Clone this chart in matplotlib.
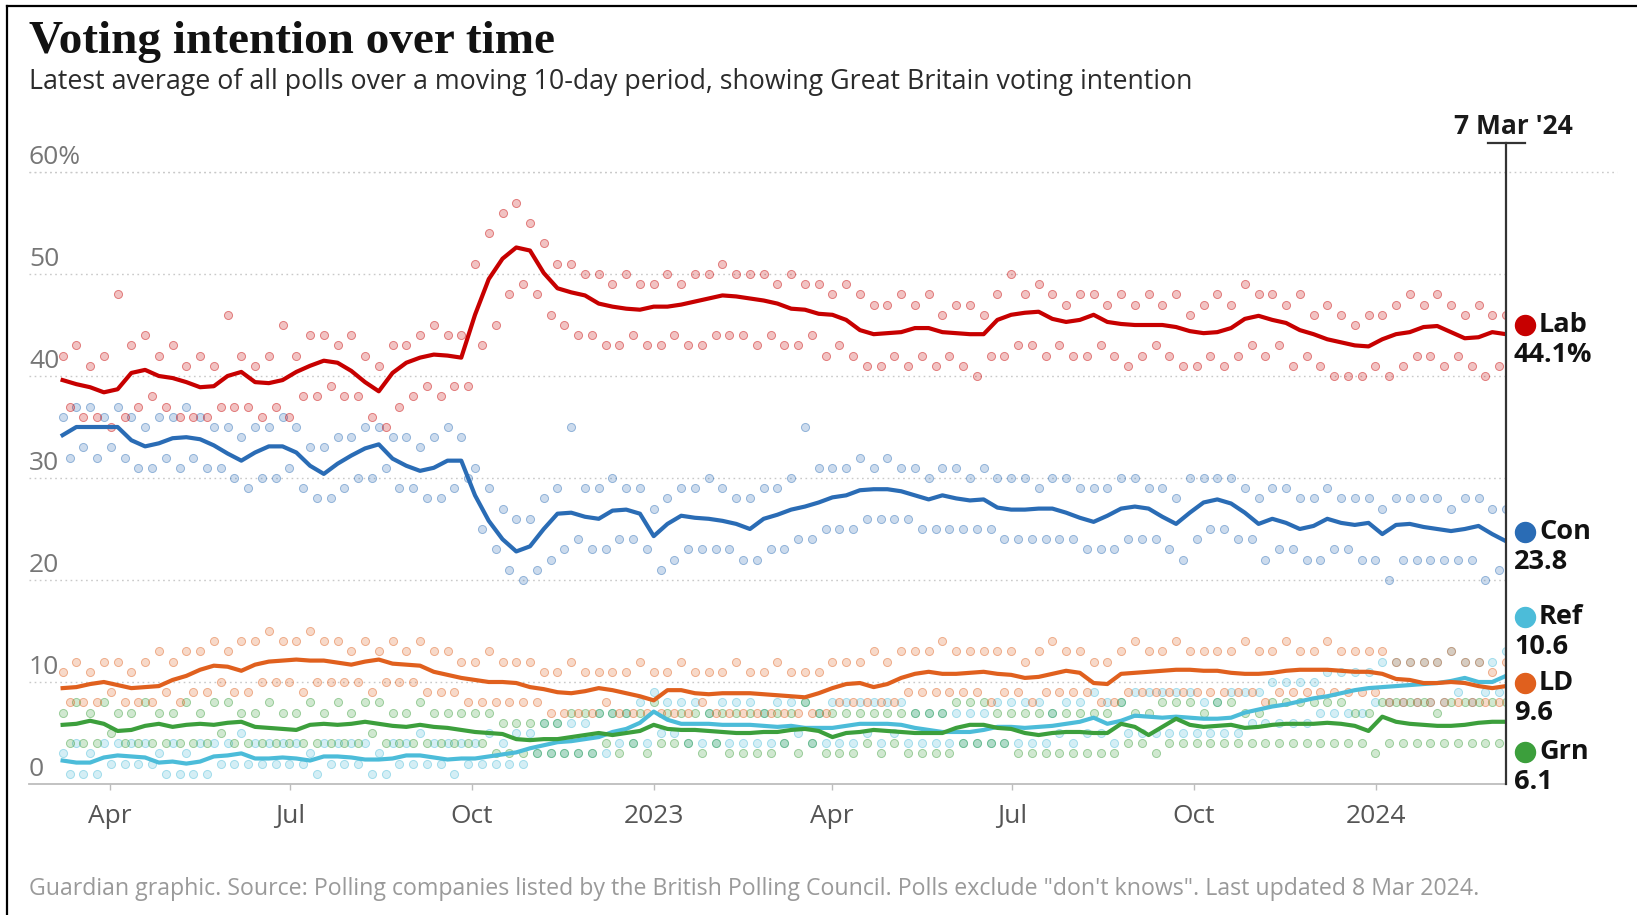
"""
Voting intention over time: poll dots and 10-day rolling averages
for the five main GB parties, March 2022 to March 2024.
"""

import matplotlib
matplotlib.use('Agg')
import matplotlib.pyplot as plt
import matplotlib.colors as mcolors
import matplotlib.transforms as mtransforms
import pandas as pd

# ---------------------------------------------------------------- data
# rolling average, sampled about once a week
DATES = pd.date_range('2022-03-08', '2024-03-07', periods=106)

LAB = [39.6, 39.2, 38.9, 38.4, 38.7, 40.3, 40.6, 40.0, 39.8, 39.4,
       38.9, 39.0, 40.0, 40.4, 39.4, 39.3, 39.6, 40.4, 41.0, 41.5,
       41.3, 40.5, 39.4, 38.5, 40.3, 41.3, 41.8, 42.1, 42.0, 41.8,
       46.0, 49.5, 51.5, 52.6, 52.3, 50.1, 48.6, 48.2, 47.9, 47.1,
       46.8, 46.6, 46.5, 46.8, 46.8, 47.0, 47.3, 47.6, 47.9, 47.8,
       47.6, 47.4, 47.1, 46.6, 46.5, 46.1, 46.0, 45.5, 44.5, 44.1,
       44.2, 44.3, 44.7, 44.7, 44.3, 44.2, 44.1, 44.1, 45.5, 46.0,
       46.2, 46.3, 45.6, 45.3, 45.5, 46.0, 45.3, 45.1, 45.0, 45.0,
       45.0, 44.8, 44.4, 44.2, 44.3, 44.7, 45.6, 45.9, 45.5, 45.2,
       44.5, 44.1, 43.6, 43.3, 43.0, 42.9, 43.6, 44.1, 44.3, 44.8,
       44.9, 44.3, 43.7, 43.8, 44.3, 44.1]
CON = [34.2, 35.0, 35.0, 35.0, 35.0, 33.7, 33.1, 33.4, 33.9, 34.0,
       33.8, 33.2, 32.4, 31.7, 32.5, 33.1, 33.1, 32.5, 31.2, 30.4,
       31.4, 32.2, 32.9, 33.3, 31.9, 31.2, 30.7, 31.0, 31.7, 31.7,
       28.3, 25.8, 24.0, 22.8, 23.3, 25.0, 26.5, 26.6, 26.2, 26.0,
       26.8, 26.9, 26.5, 24.3, 25.5, 26.3, 26.1, 26.0, 25.8, 25.5,
       25.0, 26.0, 26.4, 26.9, 27.2, 27.6, 28.1, 28.3, 28.8, 28.9,
       28.9, 28.7, 28.3, 27.9, 28.3, 28.0, 27.8, 27.9, 27.1, 26.9,
       26.9, 27.0, 27.0, 26.6, 26.1, 25.7, 26.3, 27.0, 27.2, 27.0,
       26.2, 25.5, 26.6, 27.6, 27.9, 27.5, 26.6, 25.5, 26.0, 25.6,
       25.0, 25.3, 26.0, 25.6, 25.4, 25.6, 24.5, 25.4, 25.5, 25.2,
       25.0, 24.8, 25.0, 25.3, 24.5, 23.8]
REF = [2.3, 2.1, 2.1, 2.6, 2.8, 2.7, 2.6, 2.1, 2.2, 2.0,
       2.2, 2.7, 2.8, 3.0, 2.5, 2.5, 2.6, 2.5, 2.3, 2.7,
       2.7, 2.6, 2.4, 2.4, 2.5, 2.8, 2.8, 2.6, 2.4, 2.5,
       2.5, 2.7, 2.9, 3.1, 3.5, 3.8, 4.1, 4.2, 4.4, 4.6,
       5.1, 5.4, 6.0, 7.1, 6.3, 5.9, 5.9, 5.9, 5.8, 5.8,
       5.8, 5.7, 5.6, 5.7, 5.5, 5.5, 5.5, 5.7, 5.9, 5.9,
       5.9, 5.8, 5.5, 5.3, 5.1, 5.1, 5.1, 5.3, 5.6, 5.6,
       5.5, 5.6, 5.7, 5.9, 6.1, 6.5, 5.9, 6.2, 6.7, 6.6,
       6.5, 6.6, 6.5, 6.4, 6.4, 6.5, 7.0, 7.3, 7.6, 7.8,
       8.1, 8.4, 8.6, 8.9, 9.2, 9.4, 9.5, 9.6, 9.7, 9.8,
       9.9, 10.1, 10.4, 10.0, 10.0, 10.6]
LD = [9.4, 9.5, 9.8, 10.0, 9.7, 9.4, 9.5, 9.6, 10.2, 10.6,
      11.2, 11.6, 11.5, 11.1, 11.7, 12.0, 12.1, 12.2, 12.1, 12.1,
      11.9, 11.7, 12.0, 12.2, 11.8, 11.7, 11.6, 11.0, 10.7, 10.4,
      10.2, 10.0, 10.0, 9.9, 9.5, 9.3, 9.0, 8.9, 9.1, 9.4,
      9.2, 8.9, 8.6, 8.2, 9.2, 9.2, 8.9, 8.8, 8.9, 8.9,
      8.9, 8.8, 8.7, 8.6, 8.5, 8.9, 9.4, 9.8, 9.9, 9.5,
      9.8, 10.4, 10.8, 11.0, 10.8, 10.8, 10.9, 11.0, 10.8, 10.7,
      10.4, 10.5, 10.8, 11.1, 10.9, 9.9, 9.8, 10.8, 10.9, 11.0,
      11.1, 11.2, 11.2, 11.1, 11.1, 10.9, 10.8, 10.8, 10.9, 11.1,
      11.2, 11.2, 11.2, 11.1, 11.0, 11.0, 10.8, 10.3, 10.2, 9.9,
      9.9, 10.0, 9.9, 9.6, 9.4, 9.6]
GRN = [5.8, 5.9, 6.2, 5.9, 5.2, 5.3, 5.7, 5.9, 5.6, 5.8,
       5.9, 5.8, 6.0, 6.1, 5.6, 5.5, 5.4, 5.3, 5.8, 5.9,
       5.8, 5.9, 6.1, 5.9, 5.7, 5.6, 5.8, 5.6, 5.5, 5.3,
       5.1, 5.0, 4.9, 4.4, 4.3, 4.4, 4.4, 4.6, 4.8, 5.0,
       4.8, 5.0, 5.2, 5.8, 5.4, 5.3, 5.3, 5.2, 5.1, 5.0,
       5.0, 5.1, 5.1, 5.3, 5.4, 5.2, 4.6, 5.0, 5.1, 5.3,
       5.2, 5.1, 5.0, 5.0, 5.0, 5.5, 5.8, 5.8, 5.5, 5.4,
       5.0, 4.8, 5.0, 5.1, 5.1, 5.0, 5.0, 5.9, 5.6, 4.8,
       5.6, 6.4, 5.8, 5.6, 5.7, 5.8, 5.5, 5.6, 5.8, 5.9,
       5.9, 5.9, 6.0, 5.9, 5.7, 5.2, 6.6, 6.1, 5.9, 5.8,
       5.7, 5.7, 5.8, 6.0, 6.1, 6.1]

# individual polls each week: the higher and the lower reading
LAB_HI = [42, 43, 41, 42, 48, 43, 44, 42, 43, 41, 42, 41, 46, 42, 41, 42, 45, 42, 44, 44,
          43, 44, 42, 41, 43, 43, 44, 45, 44, 44, 51, 54, 56, 57, 55, 53, 51, 51, 50, 50,
          49, 50, 49, 49, 50, 49, 50, 50, 51, 50, 50, 50, 49, 50, 49, 49, 48, 49, 48, 47,
          47, 48, 47, 48, 46, 47, 47, 46, 48, 50, 48, 49, 48, 47, 48, 48, 47, 48, 47, 48,
          47, 48, 46, 47, 48, 47, 49, 48, 48, 47, 48, 46, 47, 46, 45, 46, 46, 47, 48, 47,
          48, 47, 46, 47, 46, 46]
LAB_LO = [37, 36, 36, 35, 36, 37, 38, 37, 36, 36, 36, 37, 37, 37, 36, 37, 36, 38, 38, 39,
          38, 38, 36, 35, 37, 38, 39, 38, 39, 39, 43, 45, 48, 49, 48, 46, 45, 44, 44, 43,
          43, 44, 43, 43, 44, 43, 43, 44, 44, 44, 43, 44, 43, 43, 44, 42, 43, 42, 41, 41,
          42, 41, 42, 41, 42, 41, 40, 42, 42, 43, 43, 42, 43, 42, 42, 43, 42, 41, 42, 43,
          42, 41, 41, 42, 41, 42, 43, 42, 43, 41, 42, 41, 40, 40, 40, 41, 40, 41, 42, 42,
          41, 42, 41, 40, 41, 41]
CON_HI = [36, 37, 37, 36, 37, 36, 35, 36, 36, 37, 36, 35, 35, 34, 35, 35, 36, 35, 33, 33,
          34, 34, 35, 35, 34, 34, 33, 34, 35, 34, 31, 29, 27, 26, 26, 28, 29, 35, 29, 29,
          30, 29, 29, 27, 28, 29, 29, 30, 29, 28, 28, 29, 29, 30, 35, 31, 31, 31, 32, 31,
          32, 31, 31, 30, 31, 31, 30, 31, 30, 30, 30, 29, 30, 30, 29, 29, 29, 30, 30, 29,
          29, 28, 30, 30, 30, 30, 29, 28, 29, 29, 28, 28, 29, 28, 28, 28, 27, 28, 28, 28,
          28, 27, 28, 28, 27, 27]
CON_LO = [32, 33, 32, 33, 32, 31, 31, 32, 31, 32, 31, 31, 30, 29, 30, 30, 31, 29, 28, 28,
          29, 30, 30, 31, 29, 29, 28, 28, 29, 30, 25, 23, 21, 20, 21, 22, 23, 24, 23, 23,
          24, 24, 23, 21, 22, 23, 23, 23, 23, 22, 22, 23, 23, 24, 24, 25, 25, 25, 26, 26,
          26, 26, 25, 25, 25, 25, 25, 25, 24, 24, 24, 24, 24, 24, 23, 23, 23, 24, 24, 24,
          23, 22, 24, 25, 25, 24, 24, 22, 23, 23, 22, 22, 23, 23, 22, 22, 20, 22, 22, 22,
          22, 22, 22, 20, 21, 21]
REF_HI = [3, 4, 3, 4, 4, 4, 4, 3, 4, 3, 4, 4, 4, 5, 4, 4, 4, 4, 3, 4,
          4, 4, 4, 3, 4, 4, 5, 4, 4, 4, 4, 5, 4, 5, 5, 6, 6, 6, 6, 7,
          7, 7, 8, 9, 8, 8, 8, 7, 8, 8, 8, 7, 8, 8, 8, 7, 8, 8, 8, 8,
          8, 8, 7, 7, 7, 7, 7, 7, 8, 8, 8, 8, 7, 8, 8, 9, 8, 8, 9, 9,
          9, 9, 9, 8, 8, 9, 9, 9, 10, 10, 10, 10, 11, 11, 11, 11, 12, 12, 12, 12,
          12, 13, 12, 12, 12, 13]
REF_LO = [1, 1, 1, 2, 2, 2, 2, 1, 1, 1, 1, 2, 2, 2, 2, 2, 2, 2, 1, 2,
          2, 2, 1, 1, 2, 2, 2, 2, 1, 2, 2, 2, 2, 2, 3, 3, 3, 3, 3, 3,
          4, 4, 4, 5, 5, 4, 4, 4, 4, 4, 4, 4, 4, 5, 4, 4, 4, 4, 5, 4,
          5, 4, 4, 4, 4, 4, 4, 4, 4, 4, 4, 4, 5, 4, 5, 5, 4, 5, 5, 5,
          5, 5, 5, 5, 5, 5, 6, 6, 6, 6, 6, 7, 7, 7, 7, 8, 8, 8, 8, 8,
          8, 9, 8, 9, 9, 9]
LD_HI = [11, 12, 11, 12, 12, 11, 12, 13, 12, 13, 13, 14, 13, 14, 14, 15, 14, 14, 15, 14,
         14, 13, 14, 13, 14, 13, 14, 13, 13, 12, 12, 13, 12, 12, 12, 11, 11, 12, 11, 11,
         11, 11, 12, 11, 11, 12, 11, 11, 11, 12, 11, 11, 12, 11, 11, 11, 12, 12, 12, 13,
         12, 13, 13, 13, 14, 13, 13, 13, 13, 13, 12, 13, 14, 13, 13, 12, 12, 13, 14, 13,
         13, 14, 13, 13, 13, 13, 14, 13, 13, 14, 13, 13, 14, 13, 13, 13, 13, 12, 12, 12,
         12, 13, 12, 12, 11, 12]
LD_LO = [8, 8, 8, 9, 8, 8, 8, 9, 8, 9, 9, 10, 9, 9, 10, 10, 10, 9, 10, 10,
         10, 10, 9, 10, 10, 10, 9, 9, 9, 8, 8, 8, 8, 8, 8, 7, 7, 7, 7, 8,
         7, 7, 7, 7, 7, 7, 8, 7, 7, 7, 7, 7, 7, 7, 7, 7, 8, 8, 8, 8,
         8, 9, 9, 9, 9, 9, 9, 8, 9, 9, 8, 9, 9, 9, 9, 8, 8, 9, 9, 9,
         9, 9, 9, 9, 9, 9, 9, 8, 9, 9, 9, 9, 9, 9, 9, 9, 8, 8, 8, 8,
         8, 8, 8, 8, 8, 8]
GRN_HI = [7, 8, 7, 8, 7, 7, 8, 7, 7, 8, 7, 8, 8, 7, 7, 8, 7, 7, 8, 7,
          8, 7, 8, 8, 7, 7, 8, 7, 7, 7, 7, 7, 6, 6, 6, 6, 6, 7, 7, 7,
          7, 7, 7, 8, 7, 7, 7, 7, 7, 7, 7, 7, 7, 7, 8, 7, 7, 7, 7, 7,
          7, 7, 7, 7, 7, 8, 8, 8, 7, 7, 7, 7, 7, 7, 7, 7, 7, 8, 7, 7,
          8, 8, 8, 7, 8, 8, 7, 7, 8, 8, 8, 8, 8, 8, 7, 7, 8, 8, 8, 8,
          7, 8, 8, 8, 8, 8]
GRN_LO = [4, 4, 4, 5, 4, 4, 4, 4, 4, 4, 4, 5, 4, 4, 4, 4, 4, 4, 4, 4,
          4, 4, 5, 4, 4, 4, 4, 4, 4, 4, 4, 3, 3, 3, 3, 3, 3, 3, 3, 4,
          3, 4, 3, 4, 4, 4, 3, 4, 3, 3, 3, 3, 4, 3, 4, 3, 3, 3, 4, 3,
          4, 3, 3, 3, 3, 4, 4, 4, 4, 3, 3, 3, 3, 3, 3, 3, 3, 4, 4, 3,
          4, 4, 4, 4, 4, 4, 4, 4, 4, 4, 4, 4, 4, 4, 4, 3, 4, 4, 4, 4,
          4, 4, 4, 4, 4, 4]

PARTIES = ['Lab', 'Con', 'Ref', 'LD', 'Grn']
AVERAGES = {'Lab': LAB, 'Con': CON, 'Ref': REF, 'LD': LD, 'Grn': GRN}
POLLS = {'Lab': (LAB_HI, LAB_LO), 'Con': (CON_HI, CON_LO), 'Ref': (REF_HI, REF_LO),
         'LD': (LD_HI, LD_LO), 'Grn': (GRN_HI, GRN_LO)}

MONTH_TICKS = ['2022-04-01', '2022-07-01', '2022-10-01', '2023-01-01',
               '2023-04-01', '2023-07-01', '2023-10-01', '2024-01-01']
MONTH_LABELS = ['Apr', 'Jul', 'Oct', '2023', 'Apr', 'Jul', 'Oct', '2024']
Y_TICKS = [0, 10, 20, 30, 40, 50, 60]

# ---------------------------------------------------------------- style
COLORS = {'Lab': '#c70000', 'Con': '#2a6cb5', 'Ref': '#4cbcd9',
          'LD': '#e0601e', 'Grn': '#3c9f3c'}
DRAW_ORDER = ['Ref', 'Grn', 'LD', 'Con', 'Lab']
# vertical spot (in % units) of each end label, spread so they do not collide
LABEL_Y = {'Lab': 45.0, 'Con': 24.7, 'Ref': 16.4, 'LD': 9.9, 'Grn': 3.1}

SANS = ['Open Sans', 'DejaVu Sans']
W, H, DPI = 1637, 915, 100


def px(v):
    """Pixels to points at the figure dpi."""
    return v * 72.0 / DPI


fig = plt.figure(figsize=(W / DPI, H / DPI), dpi=DPI)
ax = fig.add_axes([29 / W, 1 - 784 / H, (1506 - 29) / W, (784 - 172) / H])

end_date = DATES[-1]
ax.set_xlim(pd.Timestamp('2022-02-19'), end_date)
ax.set_ylim(0, 60)

# dotted gridlines, the 60% one runs on past the date marker
for v in Y_TICKS[1:]:
    ax.axhline(v, color='#c9c9c9', lw=1.0, dashes=(1.2, 2.5), zorder=1)
ax.plot([0, 1.075], [60, 60], transform=ax.get_yaxis_transform(),
        color='#c9c9c9', lw=1.0, dashes=(1.2, 2.5), clip_on=False, zorder=1)

for v in Y_TICKS:
    lab = f'{v}%' if v == 60 else str(v)
    ax.annotate(lab, xy=(0, v), xycoords=ax.get_yaxis_transform(),
                xytext=(0, px(2)), textcoords='offset points',
                ha='left', va='bottom', fontsize=19, color='#767676', family=SANS)

# poll dots: pale fill with a slightly stronger rim
shift = pd.Timedelta(days=3.5)
for p in DRAW_ORDER:
    hi, lo = POLLS[p]
    face = mcolors.to_rgba(COLORS[p], 0.24)
    rim = mcolors.to_rgba(COLORS[p], 0.45)
    for when, vals in ((DATES, hi), (DATES + shift, lo)):
        ax.scatter(when, vals, s=34, facecolor=face, edgecolor=rim,
                   linewidths=0.7, zorder=2)

# rolling averages
for i, p in enumerate(DRAW_ORDER):
    ax.plot(DATES, AVERAGES[p], color=COLORS[p], lw=3.0,
            solid_joinstyle='round', zorder=4 + i)

# axes cosmetics
for side in ['top', 'right', 'left']:
    ax.spines[side].set_visible(False)
ax.spines['bottom'].set_color('#bdbdbd')
ax.spines['bottom'].set_linewidth(1.3)
ax.set_yticks([])
ax.set_xticks(pd.to_datetime(MONTH_TICKS))
ax.set_xticklabels(MONTH_LABELS)
ax.tick_params(axis='x', length=px(6), width=1, color='#bdbdbd',
               labelsize=19, labelcolor='#555555', pad=px(14))
for t in ax.get_xticklabels():
    t.set_family(SANS)

# latest-date marker
ax.plot([end_date, end_date], [0, 62.8], color='#333333', lw=1.6,
        clip_on=False, zorder=10)
ax.plot([end_date - pd.Timedelta(days=9), end_date + pd.Timedelta(days=9.5)],
        [62.8, 62.8], color='#333333', lw=1.6, clip_on=False, zorder=10)
ax.annotate("7 Mar '24", xy=(end_date, 62.8), xytext=(px(7), px(3)),
            textcoords='offset points', ha='center', va='bottom',
            annotation_clip=False, fontsize=19, fontweight='bold',
            color='#1a1a1a', family=SANS)

# end labels
dot_tr = mtransforms.offset_copy(ax.get_yaxis_transform(), fig=fig,
                                 x=px(19), y=0, units='points')
for p in PARTIES:
    y = LABEL_Y[p]
    last = AVERAGES[p][-1]
    ax.plot([1.0], [y], marker='o', ms=px(20), color=COLORS[p],
            transform=dot_tr, clip_on=False, zorder=11)
    ax.annotate(p, xy=(1.0, y), xycoords=ax.get_yaxis_transform(),
                xytext=(px(33), 0), textcoords='offset points',
                ha='left', va='center', fontsize=19.5, fontweight='bold',
                color='#121212', family=SANS, annotation_clip=False)
    val = f'{last:.1f}%' if p == 'Lab' else f'{last:.1f}'
    ax.annotate(val, xy=(1.0, y), xycoords=ax.get_yaxis_transform(),
                xytext=(px(8), px(-30)), textcoords='offset points',
                ha='left', va='center', fontsize=19.5, fontweight='bold',
                color='#121212', family=SANS, annotation_clip=False)

# headings and footer
fig.text(29 / W, 1 - 53 / H, 'Voting intention over time', ha='left',
         va='baseline', fontsize=34, fontweight='bold', color='#121212',
         family=['Liberation Serif', 'DejaVu Serif'])
fig.text(29 / W, 1 - 89 / H,
         'Latest average of all polls over a moving 10-day period, '
         'showing Great Britain voting intention',
         ha='left', va='baseline', fontsize=19.3, color='#2b2b2b', family=SANS)
fig.text(29 / W, 1 - 895 / H,
         'Guardian graphic. Source: Polling companies listed by the British '
         'Polling Council. Polls exclude "don\'t knows". Last updated 8 Mar 2024.',
         ha='left', va='baseline', fontsize=16.7, color='#9a9a9a', family=SANS)

# frame on the top and left edges
fig.add_artist(plt.Line2D([7 / W, 7 / W], [0, 1 - 6 / H], color='black', lw=1.6))
fig.add_artist(plt.Line2D([7 / W, 1], [1 - 6 / H, 1 - 6 / H], color='black', lw=1.6))

fig.savefig('out.png', dpi=DPI)
